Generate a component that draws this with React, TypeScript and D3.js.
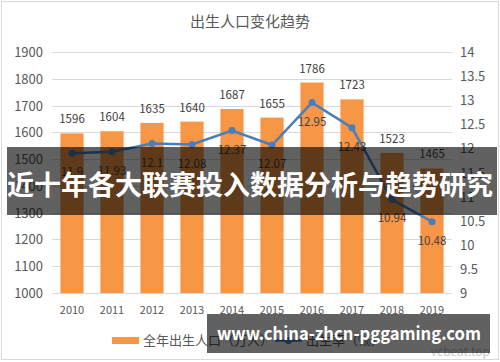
import { useEffect, useRef } from "react";
import * as d3 from "d3";

// chart data
const years = ["2010", "2011", "2012", "2013", "2014", "2015", "2016", "2017", "2018", "2019"];
const births = [1596, 1604, 1635, 1640, 1687, 1655, 1786, 1723, 1523, 1465];
const birthRate = [11.9, 11.93, 12.1, 12.08, 12.37, 12.07, 12.95, 12.43, 10.94, 10.48];
const leftTicks = [1000, 1100, 1200, 1300, 1400, 1500, 1600, 1700, 1800, 1900];
const rightTicks = [9, 9.5, 10, 10.5, 11, 11.5, 12, 12.5, 13, 13.5, 14];

const title = "出生人口变化趋势";
const barLegend = "全年出生人口（万人）";
const lineLegend = "出生率（‰）";
const banner = "近十年各大联赛投入数据分析与趋势研究";
const watermark = "www.china-zhcn-pggaming.com";

const W = 500;
const H = 362;
const FONT = "'Noto Sans CJK SC', 'Noto Sans', sans-serif";

function Chart() {
  const ref = useRef<SVGSVGElement>(null);

  useEffect(() => {
    const svg = d3.select(ref.current);
    svg.selectAll("*").remove();

    const left = 52, right = 452, top = 52, bottom = 293;

    const x = d3.scaleBand().domain(years).range([left, right]).paddingInner(0.42).paddingOuter(0.21);
    const yL = d3.scaleLinear().domain([1000, 1900]).range([bottom, top]);
    const yR = d3.scaleLinear().domain([9, 14]).range([bottom, top]);

    svg.append("rect")
      .attr("x", 1.5).attr("y", 1.5).attr("width", W - 3).attr("height", H - 4)
      .attr("fill", "#fff").attr("stroke", "#d9d9d9");

    svg.append("text")
      .attr("x", 250).attr("y", 27).attr("text-anchor", "middle")
      .attr("font-size", 15).attr("fill", "#595959").text(title);

    // grid
    svg.append("g").selectAll("line").data(leftTicks).join("line")
      .attr("x1", left).attr("x2", right)
      .attr("y1", d => Math.round(yL(d)) + 0.5).attr("y2", d => Math.round(yL(d)) + 0.5)
      .attr("stroke", "#d9d9d9").attr("stroke-width", 1);

    svg.append("g").selectAll("text").data(leftTicks).join("text")
      .attr("x", 43).attr("y", d => yL(d) + 5).attr("text-anchor", "end")
      .attr("font-size", 13).attr("fill", "#595959").text(d => d);

    svg.append("g").selectAll("text").data(rightTicks).join("text")
      .attr("x", 460).attr("y", d => yR(d) + 5).attr("text-anchor", "start")
      .attr("font-size", 13).attr("fill", "#595959").text(d => d);

    svg.append("g").selectAll("text").data(years).join("text")
      .attr("x", d => x(d)! + x.bandwidth() / 2).attr("y", 314).attr("text-anchor", "middle")
      .attr("font-size", 11).attr("fill", "#595959").text(d => d);

    // bars
    svg.append("g").selectAll("rect").data(births).join("rect")
      .attr("x", (_, i) => x(years[i])!)
      .attr("y", d => yL(d))
      .attr("width", x.bandwidth())
      .attr("height", d => bottom - yL(d))
      .attr("fill", "#f79646");

    svg.append("g").selectAll("text").data(births).join("text")
      .attr("x", (_, i) => x(years[i])! + x.bandwidth() / 2)
      .attr("y", d => yL(d) - 10)
      .attr("text-anchor", "middle").attr("font-size", 11.5).attr("fill", "#404040")
      .text(d => d);

    // line
    const line = d3.line<number>()
      .x((_, i) => x(years[i])! + x.bandwidth() / 2)
      .y(d => yR(d));

    svg.append("path").datum(birthRate)
      .attr("d", line).attr("fill", "none")
      .attr("stroke", "#4a7ebb").attr("stroke-width", 2.5);

    svg.append("g").selectAll("circle").data(birthRate).join("circle")
      .attr("cx", (_, i) => x(years[i])! + x.bandwidth() / 2)
      .attr("cy", d => yR(d)).attr("r", 3.5).attr("fill", "#4a7ebb");

    svg.append("g").selectAll("text").data(birthRate).join("text")
      .attr("x", (_, i) => x(years[i])! + x.bandwidth() / 2)
      .attr("y", d => yR(d) + 23)
      .attr("text-anchor", "middle").attr("font-size", 11.5).attr("fill", "#404040")
      .text(d => d);

    // legend
    const lg = svg.append("g");
    lg.append("rect").attr("x", 112).attr("y", 337).attr("width", 27).attr("height", 7).attr("fill", "#f79646");
    lg.append("text").attr("x", 143).attr("y", 345).attr("font-size", 13).attr("fill", "#595959").text(barLegend);
    lg.append("line").attr("x1", 275).attr("x2", 302).attr("y1", 340.5).attr("y2", 340.5)
      .attr("stroke", "#4a7ebb").attr("stroke-width", 2.5);
    lg.append("circle").attr("cx", 288.5).attr("cy", 340.5).attr("r", 3.5).attr("fill", "#4a7ebb");
    lg.append("text").attr("x", 306).attr("y", 345).attr("font-size", 13).attr("fill", "#595959").text(lineLegend);

    // faint logo
    svg.append("text").attr("x", 490).attr("y", 356).attr("text-anchor", "end")
      .attr("font-size", 12).attr("fill", "#c8c8c8").text("vcbeat.top");

    // banner overlay
    svg.append("rect").attr("x", 7).attr("y", 147).attr("width", 490).attr("height", 68)
      .attr("fill", "rgba(0,0,0,0.62)");
    svg.append("text").attr("x", 250).attr("y", 195).attr("text-anchor", "middle")
      .attr("font-size", 27).attr("font-weight", "bold").attr("fill", "#fff").text(banner);

    // watermark overlay
    svg.append("rect").attr("x", 207).attr("y", 314).attr("width", 283).attr("height", 39)
      .attr("fill", "rgba(0,0,0,0.62)");
    svg.append("text").attr("x", 217).attr("y", 340).attr("text-anchor", "start")
      .attr("font-size", 18).attr("font-weight", "bold").attr("fill", "#fff")
      .attr("textLength", 264).attr("lengthAdjust", "spacingAndGlyphs").text(watermark);
  }, []);

  return <svg ref={ref} width={W} height={H} style={{ display: "block", fontFamily: FONT }} />;
}

export default function App() {
  return (
    <div style={{ position: "absolute", left: 0, top: 0 }}>
      <Chart />
    </div>
  );
}
